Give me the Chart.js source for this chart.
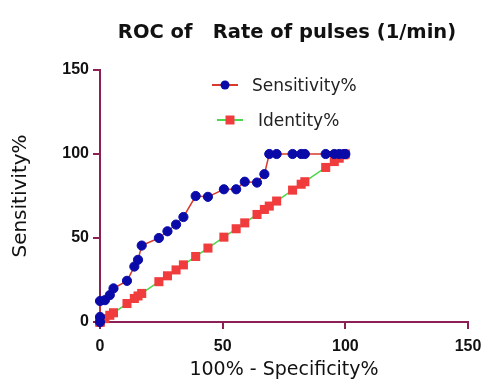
<!DOCTYPE html>
<html>
<head>
<meta charset="utf-8">
<script src="https://cdn.jsdelivr.net/npm/chart.js@4.4.1/dist/chart.umd.min.js"></script>
<style>
  html, body { margin: 0; padding: 0; background: #ffffff; }
  #wrap { width: 484px; height: 383px; }
</style>
</head>
<body>
<div id="wrap"><canvas id="rocChart" width="484" height="383"></canvas></div>
<script>
// valores
var sensX = [0, 0, 0, 2, 4, 5.5, 11, 14, 15.5, 17, 24, 27.5, 31, 34, 39, 44, 50.5, 55.5, 59, 64, 67, 69, 72, 78.5, 82, 83.5, 92, 95.5, 97.5, 99.5, 100];
var sensY = [0, 3, 12.5, 13, 16, 20, 24.5, 33, 37, 45.5, 50, 54, 58, 62.5, 75, 74.5, 79, 79, 83.5, 83, 88, 100, 100, 100, 100, 100, 100, 100, 100, 100, 100];
var identX = [0, 0, 0, 2, 4, 5.5, 11, 14, 15.5, 17, 24, 27.5, 31, 34, 39, 44, 50.5, 55.5, 59, 64, 67, 69, 72, 78.5, 82, 83.5, 92, 95.5, 97.5, 99.5, 100];
var identY = [0, 0, 0, 2, 4, 5.5, 11, 14, 15.5, 17, 24, 27.5, 31, 34, 39, 44, 50.5, 55.5, 59, 64, 67, 69, 72, 78.5, 82, 83.5, 92, 95.5, 97.5, 99.5, 100];
var axisTicks = [0, 50, 100, 150];
var chartTitle = 'ROC of   Rate of pulses (1/min)';
var xTitle = '100% - Specificity%';
var yTitle = 'Sensitivity%';
var serieNames = ['Sensitivity%', 'Identity%'];

var colorEje = '#8c1f55';

function puntos(xs, ys) {
  return xs.map(function (valor, index) {
    return { x: valor, y: ys[index] };
  });
}

// titulo y leyenda dibujados a mano
var tituloLeyenda = {
  id: 'tituloLeyenda',
  afterDraw: function (chart) {
    var ctx = chart.ctx;
    var area = chart.chartArea;
    ctx.save();
    ctx.fillStyle = '#111111';
    ctx.font = 'bold 19.5px "DejaVu Sans"';
    ctx.textAlign = 'center';
    ctx.textBaseline = 'alphabetic';
    ctx.fillText(chartTitle, (area.left + area.right) / 2 + 3, 38);

    var items = [
      { cx: 225, cy: 85, tx: 252 },
      { cx: 230, cy: 120, tx: 258 }
    ];
    chart.data.datasets.forEach(function (ds, i) {
      var it = items[i];
      ctx.strokeStyle = ds.borderColor;
      ctx.lineWidth = 2;
      ctx.beginPath();
      ctx.moveTo(it.cx - 13, it.cy);
      ctx.lineTo(it.cx + 13, it.cy);
      ctx.stroke();
      ctx.fillStyle = ds.pointBackgroundColor;
      ctx.beginPath();
      if (ds.pointStyle === 'rect') {
        ctx.rect(it.cx - 4.5, it.cy - 4.5, 9, 9);
      } else {
        ctx.arc(it.cx, it.cy, 4.5, 0, Math.PI * 2);
      }
      ctx.fill();
      ctx.fillStyle = '#222222';
      ctx.font = '17px "DejaVu Sans"';
      ctx.textAlign = 'left';
      ctx.fillText(ds.label, it.tx, it.cy + 6);
    });
    ctx.restore();
  }
};

var ctx = document.getElementById('rocChart').getContext('2d');
var rocChart = new Chart(ctx, {
  type: 'scatter',
  data: {
    datasets: [{
        label: serieNames[0],
        data: puntos(sensX, sensY),
        showLine: true,
        borderColor: '#d93a2b',
        borderWidth: 1.5,
        pointStyle: 'circle',
        pointRadius: 4.6,
        pointBackgroundColor: '#0a0aa8',
        pointBorderColor: '#0a0aa8',
        pointBorderWidth: 1,
        clip: false
      },
      {
        label: serieNames[1],
        data: puntos(identX, identY),
        showLine: true,
        borderColor: '#4cd94c',
        borderWidth: 1.5,
        pointStyle: 'rect',
        pointRadius: 6.4,
        pointBackgroundColor: '#f03c3c',
        pointBorderColor: '#f03c3c',
        pointBorderWidth: 0,
        clip: false
      }
    ]
  },
  options: {
    responsive: false,
    animation: false,
    layout: {
      padding: { top: 70, right: 16, left: 0, bottom: 0 }
    },
    plugins: {
      legend: { display: false },
      title: { display: false },
      tooltip: { enabled: false }
    },
    scales: {
      x: {
        type: 'linear',
        position: 'bottom',
        min: axisTicks[0],
        max: axisTicks[axisTicks.length - 1],
        afterBuildTicks: function (scale) {
          scale.ticks = axisTicks.map(function (v) { return { value: v }; });
        },
        afterFit: function (scale) {
          scale.height = 61;
          scale.paddingLeft = 0;
          scale.paddingRight = 0;
        },
        grid: {
          drawOnChartArea: false,
          drawTicks: true,
          tickLength: 7,
          color: colorEje,
          lineWidth: 2
        },
        border: { color: colorEje, width: 2 },
        ticks: {
          color: '#111111',
          padding: 8,
          font: { family: '"Liberation Sans", Arial', size: 16, weight: 'bold' }
        },
        title: {
          display: true,
          text: xTitle,
          color: '#111111',
          padding: { top: 0, bottom: 2 },
          font: { family: '"DejaVu Sans"', size: 19 }
        }
      },
      y: {
        type: 'linear',
        position: 'left',
        min: axisTicks[0],
        max: axisTicks[axisTicks.length - 1],
        afterBuildTicks: function (scale) {
          scale.ticks = axisTicks.map(function (v) { return { value: v }; });
        },
        afterFit: function (scale) {
          scale.width = 100;
          scale.paddingTop = 0;
          scale.paddingBottom = 0;
        },
        grid: {
          drawOnChartArea: false,
          drawTicks: true,
          tickLength: 7,
          color: colorEje,
          lineWidth: 2
        },
        border: { color: colorEje, width: 2 },
        ticks: {
          color: '#111111',
          padding: 4,
          font: { family: '"Liberation Sans", Arial', size: 16, weight: 'bold' }
        },
        title: {
          display: true,
          text: yTitle,
          color: '#111111',
          padding: { top: 9, bottom: 0 },
          font: { family: '"DejaVu Sans"', size: 20 }
        }
      }
    }
  },
  plugins: [tituloLeyenda]
});
</script>
</body>
</html>
